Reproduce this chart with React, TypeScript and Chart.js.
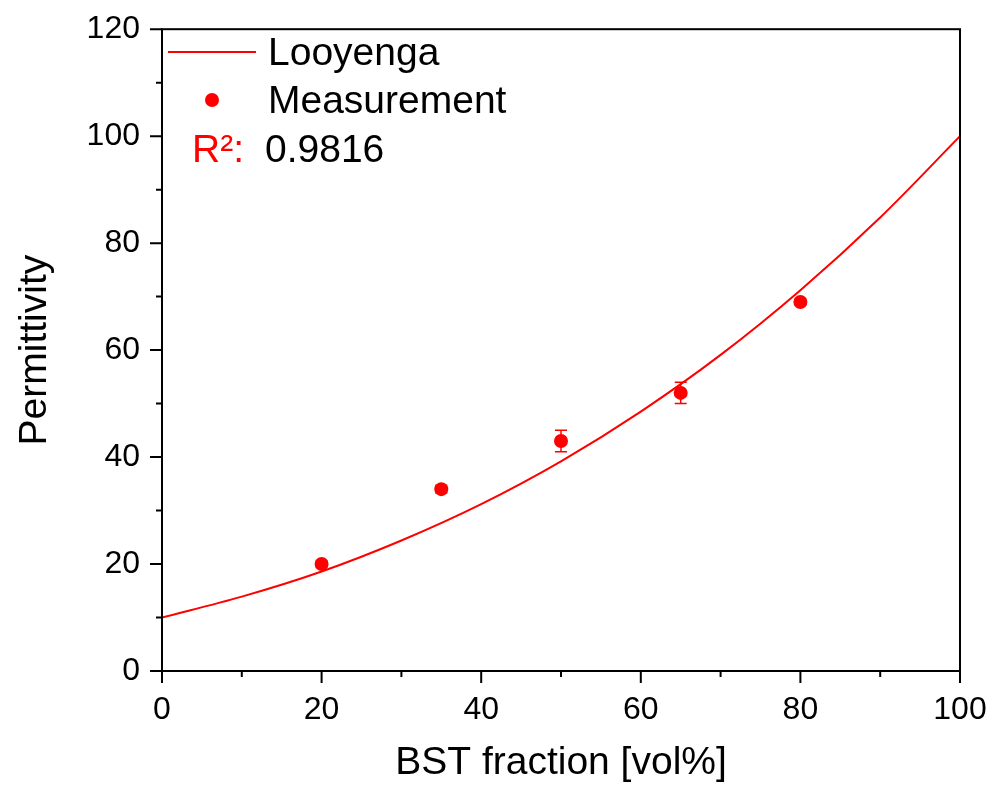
import React, { useEffect, useRef } from 'react';
import { Chart, registerables } from 'chart.js';

Chart.register(...registerables);

// Looyenga model curve
const curveX = [0, 10, 20, 30, 40, 50, 60, 70, 80, 90, 100];
const curveY = [10, 13.9, 18.6, 24.4, 31.2, 39.2, 48.5, 59.1, 71.2, 84.8, 100];

// Measurements with error bars
const measX = [20, 35, 50, 65, 80];
const measY = [20, 34, 43, 52, 69];
const measErr = [0.5, 0.7, 2, 2, 0.5];

const xMajorTicks = [0, 20, 40, 60, 80, 100];
const xMinorTicks = [10, 30, 50, 70, 90];
const yMajorTicks = [0, 20, 40, 60, 80, 100, 120];
const yMinorTicks = [10, 30, 50, 70, 90, 110];

const legendLine = 'Looyenga';
const legendPoints = 'Measurement';
const r2Label = 'R²:';
const r2Value = '0.9816';

const xTitle = 'BST fraction [vol%]';
const yTitle = 'Permittivity';

const FONT = '"Liberation Sans", Arial, sans-serif';
const RED = '#ff0000';

const customPlugin = {
  id: 'customDecor',
  beforeDatasetsDraw(chart: any) {
    const ctx = chart.ctx;
    const xs = chart.scales.x;
    const ys = chart.scales.y;
    ctx.save();
    ctx.strokeStyle = RED;
    ctx.lineWidth = 1.5;
    measX.forEach((xv, i) => {
      const px = xs.getPixelForValue(xv);
      const top = ys.getPixelForValue(measY[i] + measErr[i]);
      const bot = ys.getPixelForValue(measY[i] - measErr[i]);
      ctx.beginPath();
      ctx.moveTo(px, top);
      ctx.lineTo(px, bot);
      ctx.moveTo(px - 6, top);
      ctx.lineTo(px + 6, top);
      ctx.moveTo(px - 6, bot);
      ctx.lineTo(px + 6, bot);
      ctx.stroke();
    });
    ctx.restore();
  },
  afterDraw(chart: any) {
    const ctx = chart.ctx;
    const { left, right, top, bottom } = chart.chartArea;
    const xs = chart.scales.x;
    const ys = chart.scales.y;
    ctx.save();
    ctx.strokeStyle = '#000';
    ctx.lineWidth = 2;
    ctx.lineCap = 'square';
    ctx.strokeRect(left, top, right - left, bottom - top);
    ctx.lineCap = 'butt';
    ctx.beginPath();
    xMajorTicks.forEach((v) => {
      const p = xs.getPixelForValue(v);
      ctx.moveTo(p, bottom);
      ctx.lineTo(p, bottom + 12);
    });
    xMinorTicks.forEach((v) => {
      const p = xs.getPixelForValue(v);
      ctx.moveTo(p, bottom);
      ctx.lineTo(p, bottom + 6);
    });
    yMajorTicks.forEach((v) => {
      const p = ys.getPixelForValue(v);
      ctx.moveTo(left, p);
      ctx.lineTo(left - 12, p);
    });
    yMinorTicks.forEach((v) => {
      const p = ys.getPixelForValue(v);
      ctx.moveTo(left, p);
      ctx.lineTo(left - 6, p);
    });
    ctx.stroke();

    // Legend
    ctx.strokeStyle = RED;
    ctx.lineWidth = 2;
    ctx.beginPath();
    ctx.moveTo(168, 52);
    ctx.lineTo(256, 52);
    ctx.stroke();
    ctx.fillStyle = RED;
    ctx.beginPath();
    ctx.arc(212, 100, 7, 0, Math.PI * 2);
    ctx.fill();
    ctx.font = `39px ${FONT}`;
    ctx.textBaseline = 'alphabetic';
    ctx.textAlign = 'left';
    ctx.fillStyle = '#000';
    ctx.fillText(legendLine, 268, 65);
    ctx.fillText(legendPoints, 268, 113);
    ctx.fillText(r2Value, 265, 162);
    ctx.fillStyle = RED;
    ctx.fillText(r2Label, 192, 162);
    ctx.restore();
  },
};

export default function App() {
  const ref = useRef<HTMLCanvasElement>(null);
  useEffect(() => {
    if (!ref.current) return;
    const chart = new Chart(ref.current, {
      type: 'scatter',
      data: {
        datasets: [
          {
            label: legendPoints,
            data: measX.map((x, i) => ({ x, y: measY[i] })),
            backgroundColor: RED,
            borderColor: RED,
            pointRadius: 7,
            pointHoverRadius: 7,
            borderWidth: 0,
          },
          {
            label: legendLine,
            data: curveX.map((x, i) => ({ x, y: curveY[i] })),
            showLine: true,
            borderColor: RED,
            backgroundColor: RED,
            borderWidth: 2,
            pointRadius: 0,
            cubicInterpolationMode: 'monotone',
          } as any,
        ],
      },
      options: {
        animation: false,
        responsive: false,
        maintainAspectRatio: false,
        layout: { padding: { top: 28, right: 38, left: 0, bottom: 0 } },
        plugins: { legend: { display: false }, tooltip: { enabled: false } },
        scales: {
          x: {
            type: 'linear',
            min: 0,
            max: 100,
            afterFit: (s: any) => {
              s.height = 115;
            },
            border: { display: false },
            grid: {
              display: true,
              drawOnChartArea: false,
              drawTicks: true,
              tickLength: 12,
              tickColor: 'rgba(0,0,0,0)',
              color: 'rgba(0,0,0,0)',
            },
            ticks: {
              stepSize: 20,
              padding: 8,
              color: '#000',
              font: { family: FONT, size: 32 },
              maxRotation: 0,
            },
            title: {
              display: true,
              text: xTitle,
              color: '#000',
              font: { family: FONT, size: 39 },
              padding: { top: 0, bottom: -1 },
            },
          },
          y: {
            type: 'linear',
            min: 0,
            max: 120,
            afterFit: (s: any) => {
              s.width = 162;
            },
            border: { display: false },
            grid: {
              display: true,
              drawOnChartArea: false,
              drawTicks: true,
              tickLength: 12,
              tickColor: 'rgba(0,0,0,0)',
              color: 'rgba(0,0,0,0)',
            },
            ticks: {
              stepSize: 20,
              padding: 10,
              color: '#000',
              font: { family: FONT, size: 32 },
            },
            title: {
              display: true,
              text: yTitle,
              color: '#000',
              font: { family: FONT, size: 39 },
              padding: { top: 12, bottom: 0 },
            },
          },
        },
      },
      plugins: [customPlugin],
    });
    return () => chart.destroy();
  }, []);
  return (
    <div style={{ position: 'fixed', left: 0, top: 0, width: 998, height: 786, background: '#fff' }}>
      <canvas ref={ref} width={998} height={786} style={{ width: 998, height: 786 }} />
    </div>
  );
}
